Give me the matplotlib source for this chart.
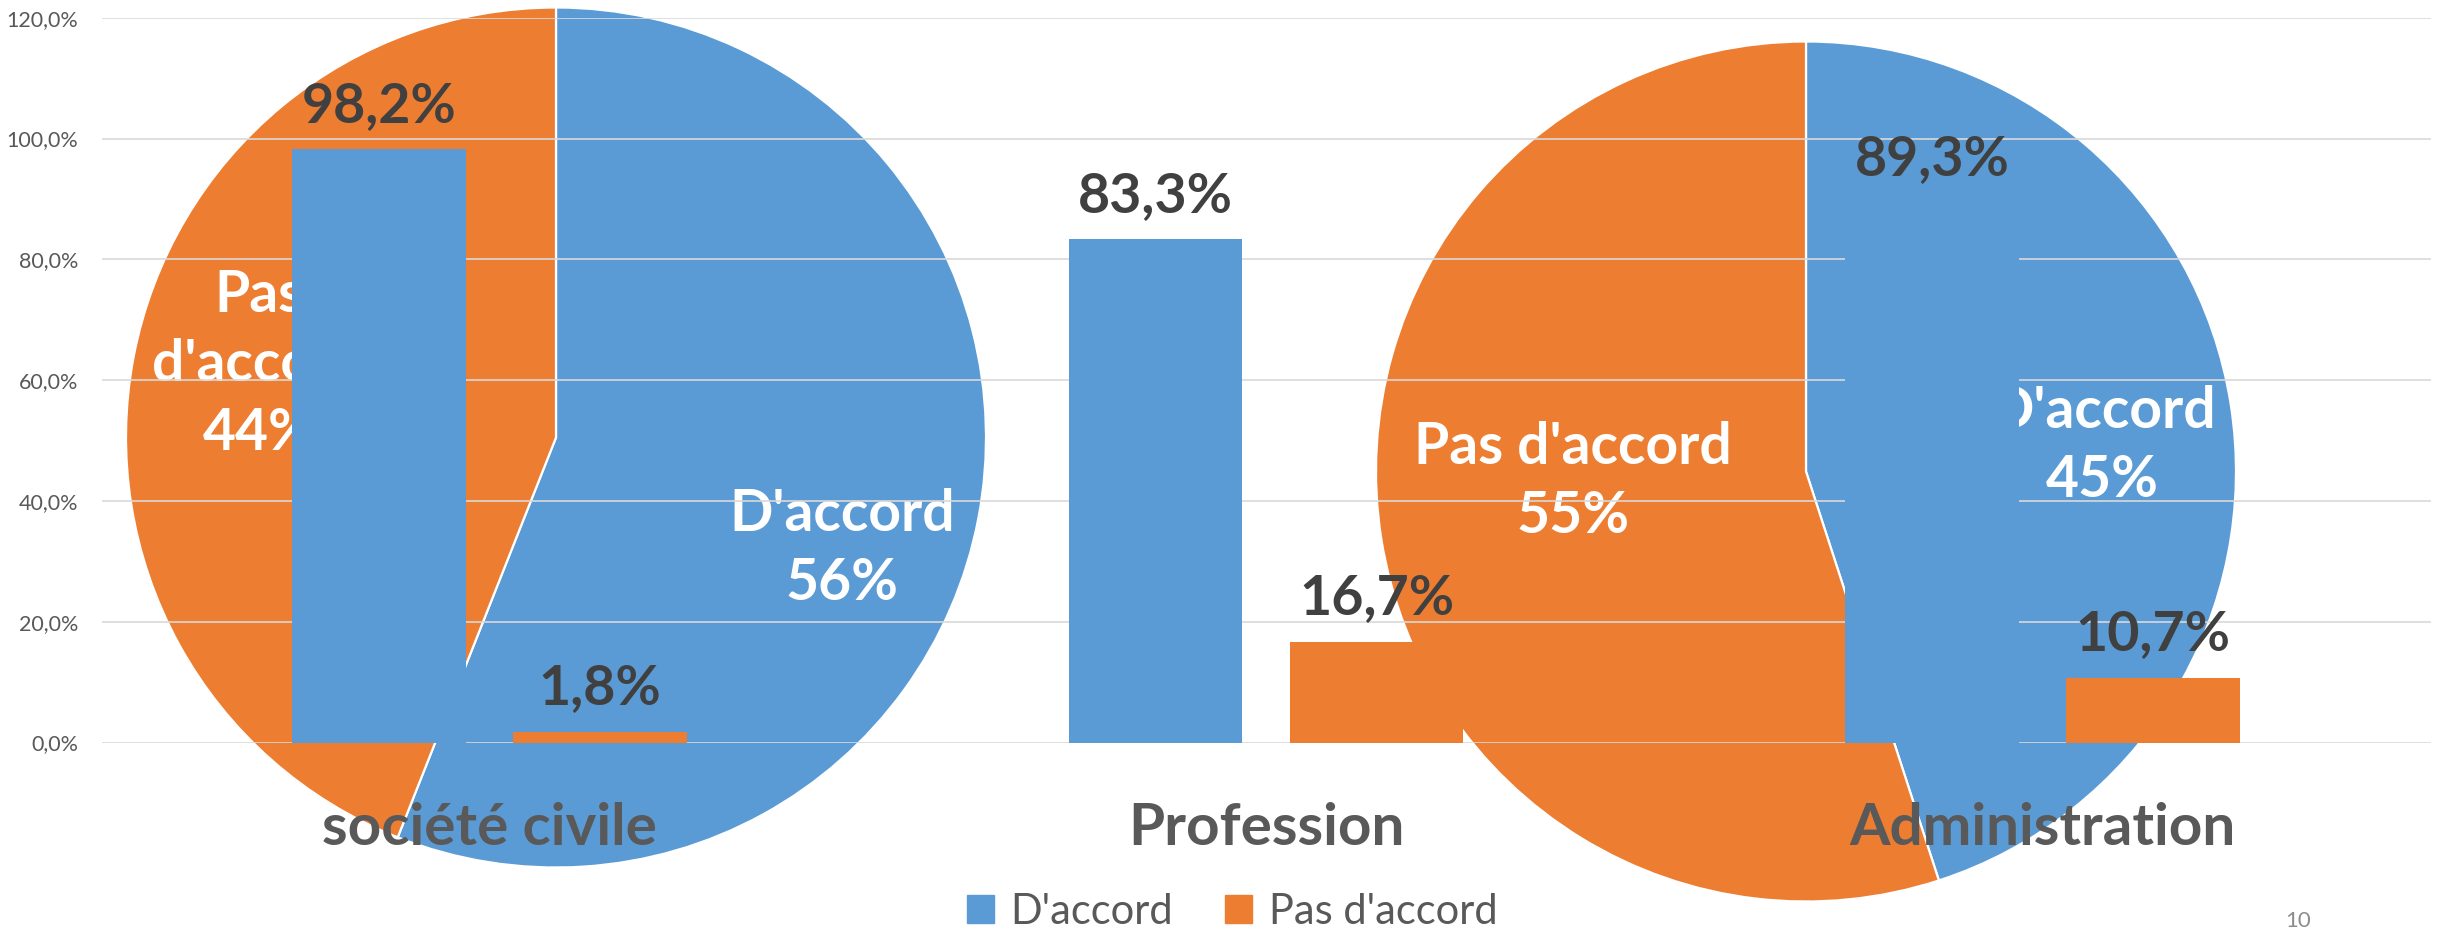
import numpy as np
import matplotlib
matplotlib.use("Agg")
import matplotlib.pyplot as plt
from matplotlib.ticker import FuncFormatter, MultipleLocator
from matplotlib.patches import Patch

plt.rcParams['font.family'] = ['Lato', 'DejaVu Sans']

# bar chart data
categories = ["société civile", "Profession", "Administration"]
series = ["D'accord", "Pas d'accord"]
accord = [98.2, 83.3, 89.3]
pas_accord = [1.8, 16.7, 10.7]

# the two pies laid over the chart
pie1_values = [56, 44]
pie1_names = ["D'accord", "Pas\nd'accord"]
pie2_values = [45, 55]
pie2_names = ["D'accord", "Pas d'accord"]

BLUE = "#5B9BD5"
ORANGE = "#ED7D31"
W, H = 2446, 934


def fmt_pct(v):
    return f"{v:.1f}%".replace(".", ",")


fig = plt.figure(figsize=(W / 100, H / 100), dpi=100)


def pie_axes(cx, cy, r):
    # square axes placed by pixel centre / radius
    return fig.add_axes([(cx - r) / W, (H - cy - r) / H, 2 * r / W, 2 * r / H], zorder=0)


def draw_pie(ax, values, names, label_pos):
    ax.pie(values, colors=[BLUE, ORANGE], startangle=90, counterclock=False,
           radius=1.0, wedgeprops=dict(edgecolor="white", linewidth=1.6))
    for v, name, (lx, ly) in zip(values, names, label_pos):
        ax.text(lx, ly, f"{name}\n{v}%", ha="center", va="center", color="white",
                fontsize=41, fontweight="bold", linespacing=1.38)
    ax.set_xlim(-1, 1)
    ax.set_ylim(-1, 1)
    ax.set_aspect("equal")
    ax.axis("off")


pa1 = pie_axes(556, 437.5, 430)
draw_pie(pa1, pie1_values, pie1_names, [(0.665, -0.26), (-0.69, 0.17)])
pa2 = pie_axes(1806, 471.5, 430)
draw_pie(pa2, pie2_values, pie2_names, [(0.69, 0.06), (-0.542, -0.025)])

# main bar chart on top, transparent background
ax = fig.add_axes([101.5 / W, (H - 742.5) / H, 2329 / W, 724.8 / H], zorder=1)
ax.patch.set_alpha(0)

x = np.arange(len(categories))
bw = 0.224
off = 0.1423
b1 = ax.bar(x - off, accord, bw, color=BLUE, zorder=2)
b2 = ax.bar(x + off, pas_accord, bw, color=ORANGE, zorder=2)

for bars, vals in ((b1, accord), (b2, pas_accord)):
    for rect, v in zip(bars, vals):
        ax.annotate(fmt_pct(v), (rect.get_x() + rect.get_width() / 2, v),
                    xytext=(0, 20), textcoords="offset points",
                    ha="center", va="baseline", fontsize=40,
                    fontweight="bold", color="#404040", zorder=3)

ax.set_xlim(-0.5, 2.5)
ax.set_ylim(0, 120)
ax.yaxis.set_major_locator(MultipleLocator(20))
ax.yaxis.set_major_formatter(FuncFormatter(lambda v, p: fmt_pct(v)))
ax.grid(axis="y", color="#D9D9D9", linewidth=1.2, zorder=0)
ax.set_axisbelow(True)
ax.tick_params(axis="y", length=0, pad=17, labelsize=15.5, labelcolor="#595959")
ax.set_xticks([])
for s in ax.spines.values():
    s.set_visible(False)

for xi, name in zip(x, categories):
    ax.text(xi, -0.1414, name, transform=ax.get_xaxis_transform(),
            ha="center", va="baseline", fontsize=42, fontweight="bold",
            color="#595959")

handles = [Patch(color=BLUE), Patch(color=ORANGE)]
fig.legend(handles, series, loc="center", bbox_to_anchor=(1232 / W, (H - 912) / H),
           ncol=2, frameon=False, fontsize=30, labelcolor="#595959",
           handlelength=0.65, handleheight=0.65, handletextpad=0.4,
           columnspacing=1.25)

# slide number in the bottom corner
fig.text(2298 / W, 3 / H, "10", ha="center", va="bottom",
         fontsize=16, color="#8C8C8C")

fig.savefig("out.png", dpi=100)
